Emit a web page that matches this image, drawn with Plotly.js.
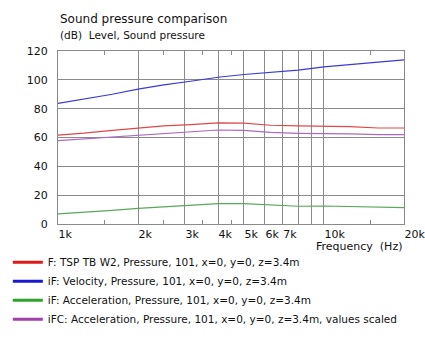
<!DOCTYPE html>
<html>
<head>
<meta charset="utf-8">
<script src="https://cdn.plot.ly/plotly-3.0.1.min.js"></script>
<style>html,body{margin:0;padding:0;background:#fff;}#chart{width:425px;height:348px;}</style>
</head>
<body>
<div id="chart"></div>
<script>
const freqs = [1000, 1250, 1600, 2000, 2500, 3150, 4000, 5000, 6300, 8000, 10000, 12500, 16000, 20000];
const redF = [61.7, 63.0, 65.0, 66.6, 68.0, 69.0, 70.1, 70.0, 68.5, 68.0, 68.0, 67.5, 66.6, 66.6];
const blueVel = [83.7, 86.5, 90.0, 93.5, 96.5, 99.0, 101.8, 103.7, 105.2, 106.7, 109.0, 110.5, 112.0, 113.9];
const greenAcc = [7.0, 8.0, 9.5, 10.9, 12.0, 13.0, 14.1, 14.1, 13.0, 12.3, 12.5, 12.2, 11.6, 11.4];
const purpleScaled = [57.8, 59.0, 60.5, 61.7, 63.0, 64.2, 65.2, 65.0, 63.5, 62.9, 62.9, 62.5, 62.0, 62.0];

const seriesNames = [
  "F: TSP TB W2, Pressure, 101, x=0, y=0, z=3.4m",
  "iF: Velocity, Pressure, 101, x=0, y=0, z=3.4m",
  "iF: Acceleration, Pressure, 101, x=0, y=0, z=3.4m",
  "iFC: Acceleration, Pressure, 101, x=0, y=0, z=3.4m, values scaled"
];
const seriesData = [redF, blueVel, greenAcc, purpleScaled];
const lineColors = ["#e04848", "#3a3ad8", "#5aa85a", "#b068c0"];
const legendColors = ["#e01818", "#1818d0", "#30a030", "#a040a8"];

const xTickVals = [1000, 2000, 3000, 4000, 5000, 6000, 7000, 8000, 9000, 10000, 20000];
const xTickText = ["1k", "2k", "3k", "4k", "5k", "6k", "7k", "", "", "10k", "20k"];
const xMinorVals = [1500, 2500, 3500, 4500, 15000];
const yTickVals = [0, 20, 40, 60, 80, 100, 120];

const traces = [];
for (let i = 0; i < seriesData.length; i++) {
  traces.push({
    x: freqs, y: seriesData[i], type: "scatter", mode: "lines",
    line: {color: lineColors[i], width: 1.2}, showlegend: false, hoverinfo: "skip"
  });
}
for (let i = 0; i < seriesData.length; i++) {
  traces.push({
    x: [null], y: [null], type: "scatter", mode: "lines",
    name: seriesNames[i], line: {color: legendColors[i], width: 3}, showlegend: true
  });
}

const font = "DejaVu Sans, Verdana, sans-serif";
const layout = {
  width: 425, height: 348,
  margin: {l: 58, r: 21, t: 51, b: 124, autoexpand: false},
  paper_bgcolor: "#ffffff", plot_bgcolor: "#ffffff",
  font: {family: font, size: 11, color: "#111111"},
  showlegend: true,
  legend: {
    x: -0.145, xanchor: "left", y: -0.138, yanchor: "top",
    font: {family: font, size: 10.5, color: "#111111"},
    bgcolor: "rgba(0,0,0,0)", borderwidth: 0, tracegroupgap: 0
  },
  xaxis: {
    type: "log", range: [3, Math.log10(20000)],
    tickmode: "array", tickvals: xTickVals, ticktext: xTickText,
    ticks: "", showgrid: true, gridcolor: "#8a8a8a", gridwidth: 1,
    showline: true, linecolor: "#8a8a8a", linewidth: 1, mirror: "ticks",
    ticklabelposition: "outside right", ticklabeloverflow: "allow", tickangle: 0, automargin: false,
    tickfont: {family: font, size: 11, color: "#111111"},
    zeroline: false,
    minor: {tickvals: xMinorVals, ticks: "inside", ticklen: 4, tickcolor: "#8a8a8a", tickwidth: 1, showgrid: false}
  },
  yaxis: {
    range: [0, 120], tickmode: "array", tickvals: yTickVals,
    ticks: "", showgrid: true, gridcolor: "#8a8a8a", gridwidth: 1,
    showline: true, linecolor: "#8a8a8a", linewidth: 1, mirror: true,
    ticklabelstandoff: 7, automargin: false,
    tickfont: {family: font, size: 11, color: "#111111"},
    zeroline: false
  },
  annotations: [
    {text: "Sound pressure comparison", xref: "paper", yref: "paper", x: 0, y: 1, xanchor: "left", yanchor: "bottom",
     yshift: 23, showarrow: false, font: {family: font, size: 12, color: "#111111"}},
    {text: "(dB)  Level, Sound pressure", xref: "paper", yref: "paper", x: 0, y: 1, xanchor: "left", yanchor: "bottom",
     yshift: 8, showarrow: false, font: {family: font, size: 10.5, color: "#111111"}},
    {text: "Frequency  (Hz)", xref: "paper", yref: "paper", x: 1, y: 0, xanchor: "right", yanchor: "top",
     yshift: -14, showarrow: false, font: {family: font, size: 11, color: "#111111"}}
  ]
};

Plotly.newPlot("chart", traces, layout, {displayModeBar: false, staticPlot: true});
</script>
</body>
</html>
